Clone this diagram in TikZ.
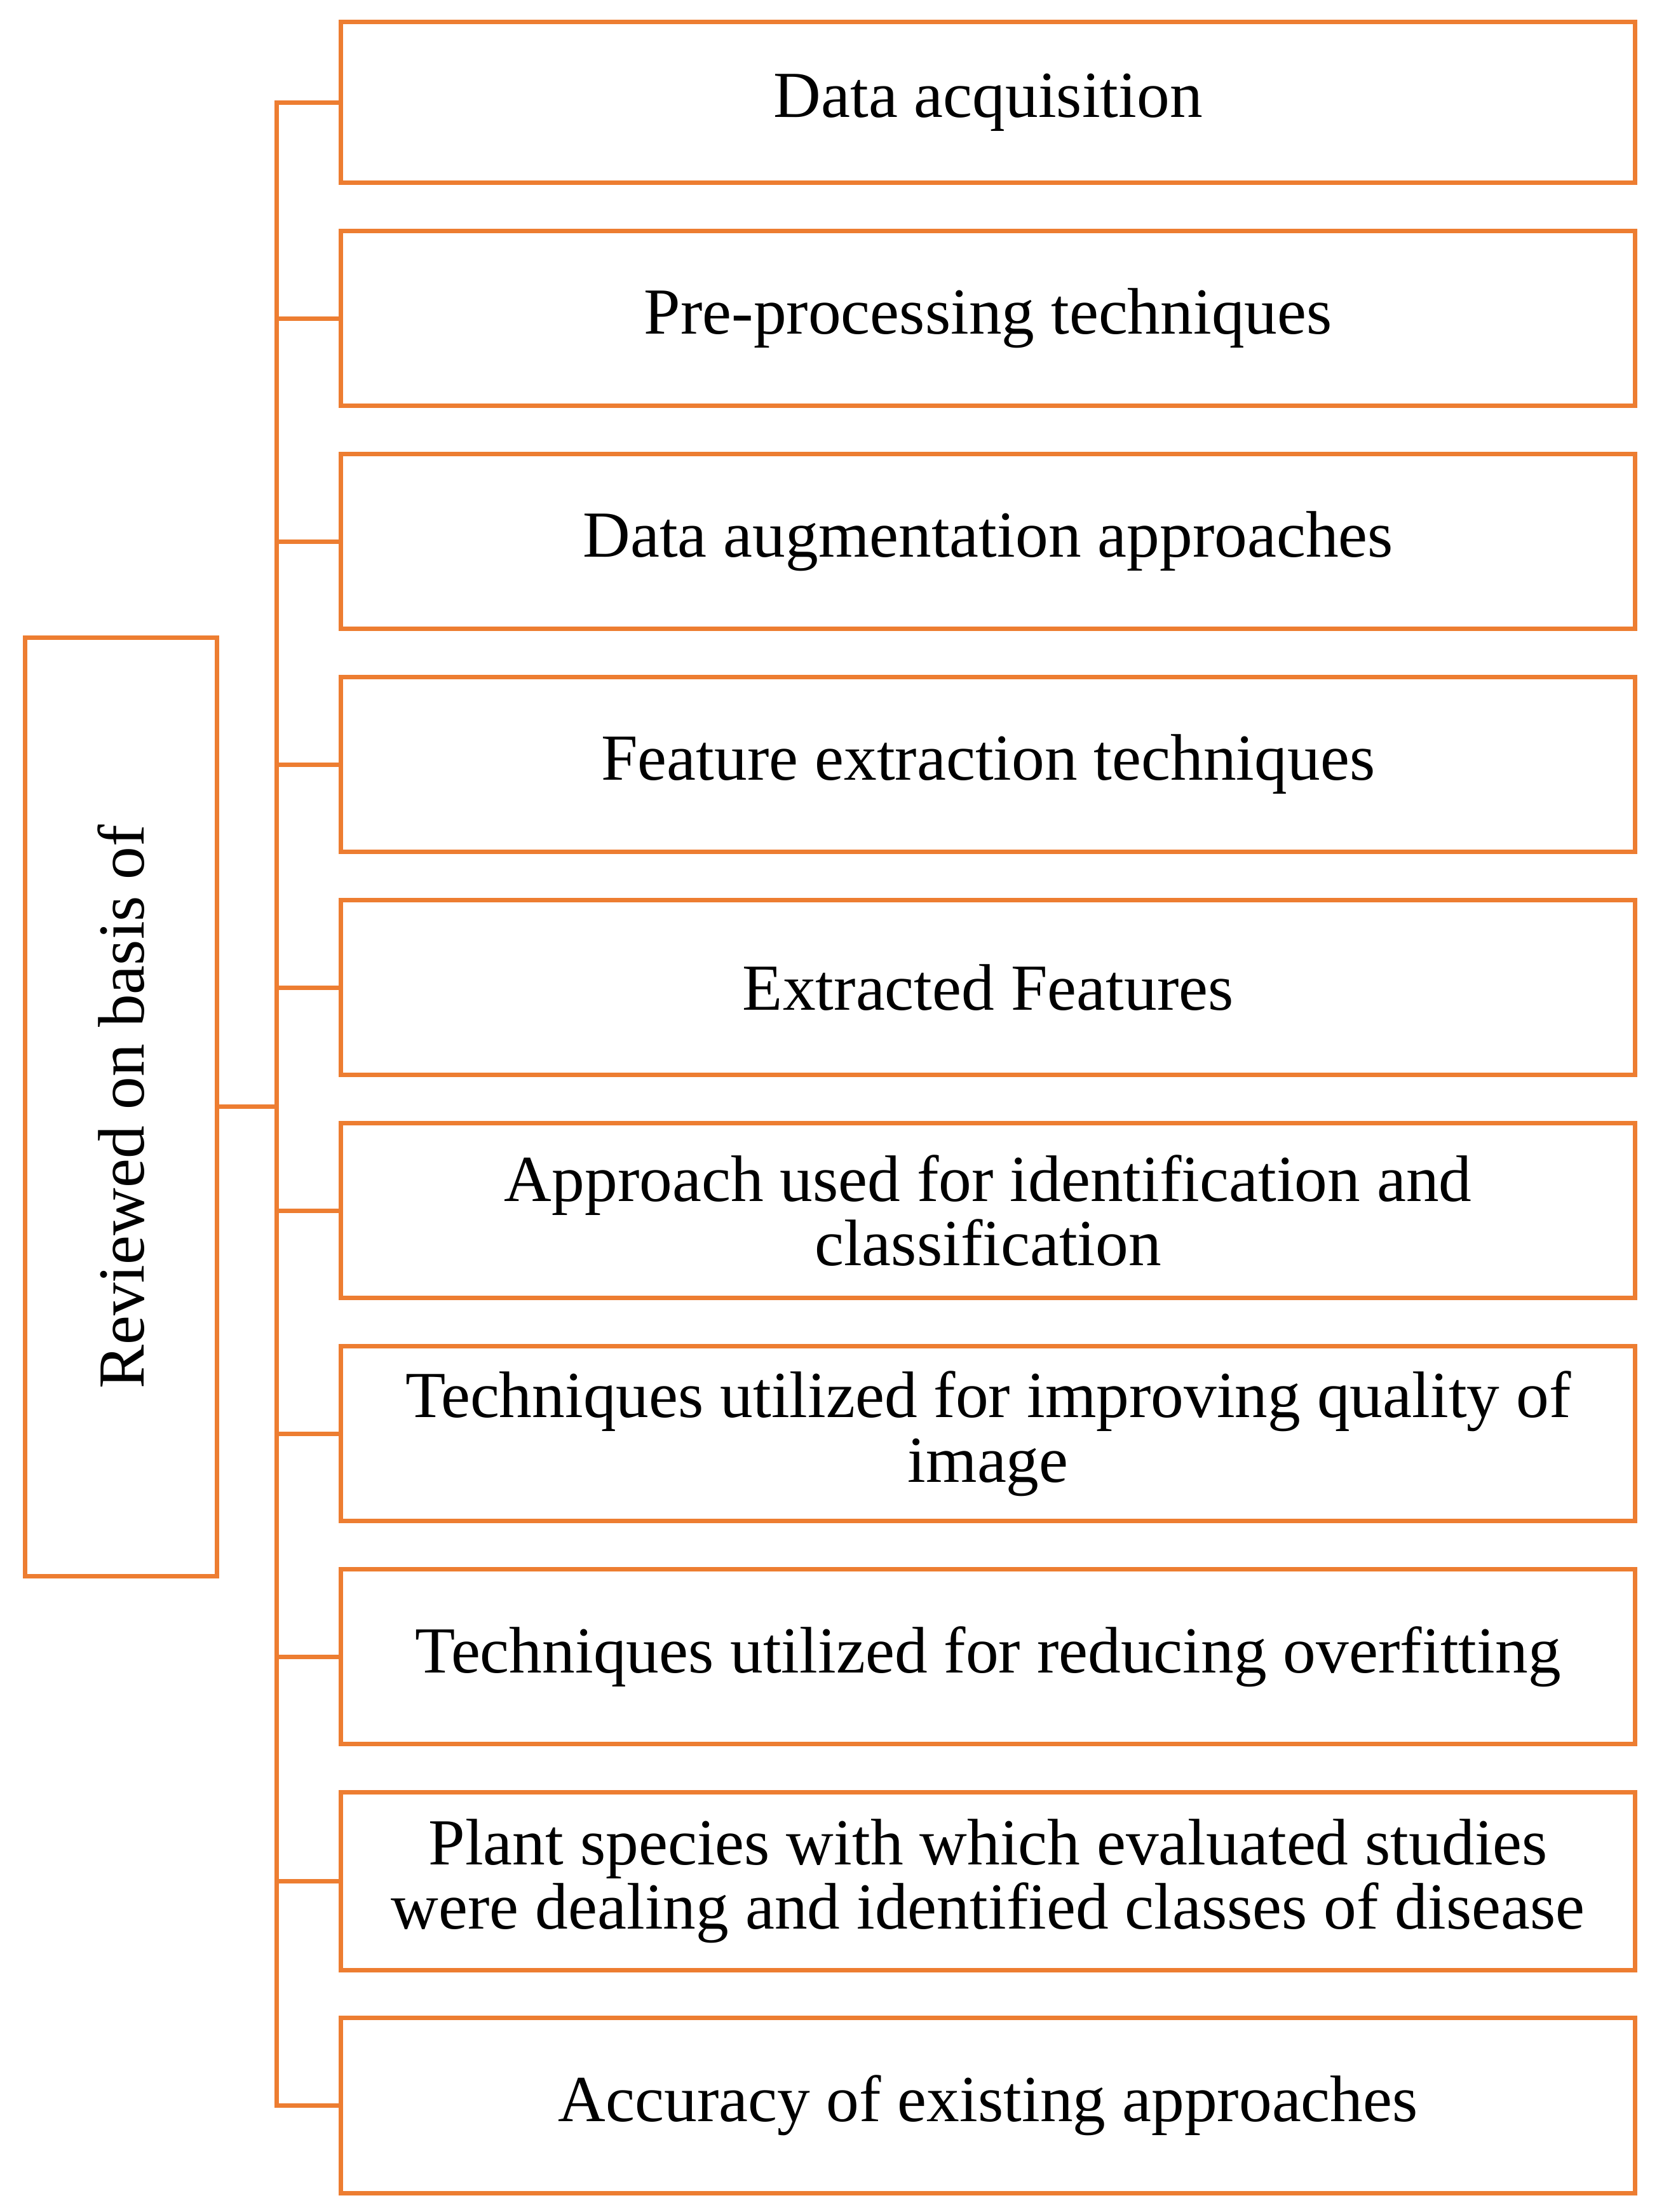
\documentclass[tikz,border=0pt]{standalone}
\usepackage{fontspec}
\setmainfont{Liberation Serif}
\usetikzlibrary{positioning}
\definecolor{boxorange}{RGB}{237,125,49}
\tikzset{
  item/.style={draw=boxorange,line width=1.8pt,minimum width=18.34cm,minimum height=2.48cm,align=center,font=\fontsize{26.5}{26}\selectfont,anchor=north west,inner sep=0pt},
  link/.style={draw=boxorange,line width=1.8pt}
}
\begin{document}
\begin{tikzpicture}
\useasboundingbox (0,0) rectangle (23.48,-31.34);
% left box
\node[draw=boxorange,line width=1.8pt,minimum width=2.72cm,minimum height=13.3cm,anchor=north west,inner sep=0pt] (main) at (0.32,-9.0) {};
\node[rotate=90,font=\fontsize{26.5}{26}\selectfont] at (main.center) {Reviewed on basis of};
% items
\node[item,minimum height=2.28cm] (i1) at (4.8,-0.28) {Data acquisition};
\node[item] (i2) at (4.8,-3.24) {Pre-processing techniques};
\node[item] (i3) at (4.8,-6.40) {Data augmentation approaches};
\node[item] (i4) at (4.8,-9.56) {Feature extraction techniques};
\node[item] (i5) at (4.8,-12.72) {Extracted Features};
\node[item] (i6) at (4.8,-15.88) {Approach used for identification and\\classification};
\node[item] (i7) at (4.8,-19.04) {Techniques utilized for improving quality of\\image};
\node[item] (i8) at (4.8,-22.20) {Techniques utilized for reducing overfitting};
\node[item,minimum height=2.52cm] (i9) at (4.8,-25.36) {Plant species with which evaluated studies\\were dealing and identified classes of disease};
\node[item] (i10) at (4.8,-28.56) {Accuracy of existing approaches};
% connectors
\coordinate (top) at (3.92,0 |- i1.west);
\coordinate (bot) at (3.92,0 |- i10.west);
\draw[link] (i1.west) -- (top) -- (bot) -- (i10.west);
\draw[link] (main.east) -- (3.92,0 |- main.east);
\foreach \n in {i2,i3,i4,i5,i6,i7,i8,i9}
  \draw[link] (\n.west) -- (3.92,0 |- \n.west);
\end{tikzpicture}
\end{document}
